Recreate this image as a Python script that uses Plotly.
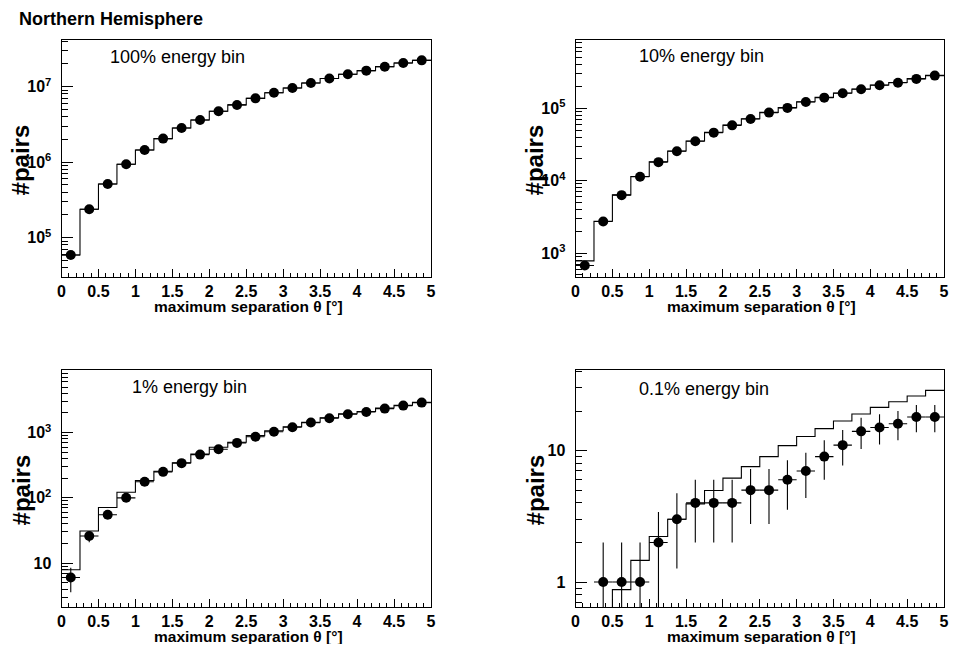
import numpy as np
import plotly.graph_objects as go

# ---------------- data ----------------
theta_centers = [0.125, 0.375, 0.625, 0.875, 1.125, 1.375, 1.625, 1.875, 2.125, 2.375,
                 2.625, 2.875, 3.125, 3.375, 3.625, 3.875, 4.125, 4.375, 4.625, 4.875]
bin_half_width = 0.125

counts_100 = [5.9e4, 2.38e5, 5.14e5, 9.4e5, 1.45e6, 2.05e6, 2.84e6, 3.62e6, 4.72e6, 5.73e6,
              7.0e6, 8.3e6, 9.6e6, 1.12e7, 1.28e7, 1.46e7, 1.63e7, 1.84e7, 2.06e7, 2.23e7]
expected_100 = [5.9e4, 2.38e5, 5.14e5, 9.4e5, 1.45e6, 2.05e6, 2.84e6, 3.62e6, 4.72e6, 5.73e6,
                7.0e6, 8.3e6, 9.6e6, 1.12e7, 1.28e7, 1.46e7, 1.63e7, 1.84e7, 2.06e7, 2.23e7]

counts_10 = [674, 2730, 6300, 11300, 18000, 25500, 35000, 46000, 58000, 71000,
             87000, 101000, 122000, 140000, 161000, 183000, 208000, 225000, 254000, 282000]
expected_10 = [780, 2750, 6350, 11400, 18200, 25700, 35300, 46500, 58500, 71500,
               87500, 102000, 123000, 141000, 162000, 184000, 209000, 227000, 256000, 284000]

counts_1 = [6, 26, 55, 100, 176, 250, 340, 460, 556, 695,
            865, 1030, 1210, 1425, 1665, 1915, 2075, 2335, 2595, 2885]
expected_1 = [7.9, 31, 71, 122, 184, 255, 345, 470, 595, 713,
              900, 1070, 1230, 1440, 1690, 1950, 2110, 2380, 2630, 2920]

counts_01 = [0, 1, 1, 1, 2, 3, 4, 4, 4, 5,
             5, 6, 7, 9, 11, 14, 15, 16, 18, 18]
expected_01 = [0.15, 0.45, 0.875, 1.46, 2.22, 3.0, 3.93, 4.97, 6.17, 7.55,
               9.0, 10.9, 12.8, 14.7, 16.8, 19.0, 21.3, 23.5, 26.0, 28.7]

panel_labels = ["100% energy bin", "10% energy bin", "1% energy bin", "0.1% energy bin"]
x_title = "maximum separation θ [°]"
y_title = "#pairs"
fig_title = "Northern Hemisphere"

# ---------------- layout geometry (pixels, in the 958x652 window) ----------------
OFF = 8                     # default page body margin
W, H = 958 - 2 * OFF, 652 - 2 * OFF
FONT = "Liberation Sans, Arial, Helvetica, sans-serif"

def px(x):
    return (x - OFF) / W

def py(y):
    return 1 - (y - OFF) / H

panels = [
    dict(x0=58, x1=431, y0=40, y1=277, yr=(4.479, 7.618), counts=counts_100, exp=expected_100,
         label=panel_labels[0], lx=106, ly=57, majors=[1e5, 1e6, 1e7]),
    dict(x0=577, x1=949, y0=40, y1=277, yr=(2.669, 5.942), counts=counts_10, exp=expected_10,
         label=panel_labels[1], lx=640, ly=56, majors=[1e3, 1e4, 1e5]),
    dict(x0=58, x1=431, y0=370, y1=607, yr=(0.326, 3.96), counts=counts_1, exp=expected_1,
         label=panel_labels[2], lx=128, ly=387, majors=[10, 100, 1000]),
    dict(x0=577, x1=949, y0=370, y1=607, yr=(-0.19, 1.613), counts=counts_01, exp=expected_01,
         label=panel_labels[3], lx=640, ly=389, majors=[1, 10]),
]

def major_text(v):
    e = int(round(np.log10(v)))
    if e == 0:
        return "1"
    if e == 1:
        return "10"
    return "10<sup>%d</sup>" % e

def minor_vals(lo, hi):
    out = []
    for e in range(int(np.floor(lo)) - 1, int(np.ceil(hi)) + 1):
        for d in range(2, 10):
            v = d * 10.0 ** e
            if lo <= np.log10(v) <= hi:
                out.append(v)
    return out

fig = go.Figure()
layout = dict(width=W, height=H, margin=dict(l=0, r=0, t=0, b=0),
              paper_bgcolor="white", plot_bgcolor="white", showlegend=False,
              font=dict(family=FONT, color="black"))
annotations = []

edges = [c - bin_half_width for c in theta_centers] + [theta_centers[-1] + bin_half_width]

for i, p in enumerate(panels):
    n = i + 1
    xa = "x" if n == 1 else "x%d" % n
    ya = "y" if n == 1 else "y%d" % n
    xk = "xaxis" if n == 1 else "xaxis%d" % n
    yk = "yaxis" if n == 1 else "yaxis%d" % n

    # step histogram (expected)
    fig.add_trace(go.Scatter(
        x=edges, y=list(p["exp"]) + [p["exp"][-1]], mode="lines",
        line=dict(color="black", width=1.1, shape="hv"),
        xaxis=xa, yaxis=ya, hoverinfo="skip"))

    # data points with Poisson errors
    cnt = np.array(p["counts"], dtype=float)
    yvals = [v if v > 0 else None for v in cnt]
    err = np.sqrt(cnt)
    fig.add_trace(go.Scatter(
        x=theta_centers, y=yvals, mode="markers",
        marker=dict(color="black", size=10, symbol="circle"),
        error_y=dict(type="data", array=err, color="black", thickness=1.1, width=0),
        error_x=dict(type="constant", value=bin_half_width, color="black", thickness=1.1, width=0),
        xaxis=xa, yaxis=ya))

    layout[xk] = dict(
        domain=[px(p["x0"]), px(p["x1"])], anchor=ya, range=[0, 5],
        tickmode="linear", tick0=0, dtick=0.5, ticks="inside", ticklen=8, tickwidth=1,
        tickcolor="black",
        minor=dict(tickmode="linear", tick0=0, dtick=0.1, ticks="inside", ticklen=4,
                   tickwidth=1, tickcolor="black"),
        showline=True, linecolor="black", linewidth=1, mirror=True,
        showgrid=False, zeroline=False,
        tickfont=dict(family=FONT, size=16, color="black", weight="bold"))
    lo, hi = p["yr"]
    layout[yk] = dict(
        domain=[py(p["y1"]), py(p["y0"])], anchor=xa, type="log", range=[lo, hi],
        tickmode="array", tickvals=p["majors"], ticktext=[major_text(v) for v in p["majors"]],
        ticks="inside", ticklen=11, tickwidth=1, tickcolor="black", ticklabelstandoff=6,
        minor=dict(tickmode="array", tickvals=minor_vals(lo, hi), ticks="inside", ticklen=6,
                   tickwidth=1, tickcolor="black"),
        showline=True, linecolor="black", linewidth=1, mirror=True,
        showgrid=False, zeroline=False,
        tickfont=dict(family=FONT, size=16, color="black", weight="bold"))

    # panel label
    annotations.append(dict(text=p["label"], x=px(p["lx"]), y=py(p["ly"]), xref="paper", yref="paper",
                            xanchor="left", yanchor="middle", showarrow=False, borderpad=0,
                            font=dict(family=FONT, size=18, color="black")))
    # x title
    annotations.append(dict(text="<b>%s</b>" % x_title, x=px((p["x0"] + p["x1"]) / 2 + 2),
                            y=py(p["y1"] + 29), xref="paper", yref="paper",
                            xanchor="center", yanchor="middle", showarrow=False, borderpad=0,
                            font=dict(family=FONT, size=15.5, color="black")))
    # y title
    annotations.append(dict(text="<b>%s</b>" % y_title, x=px(p["x0"] - 40.5),
                            y=py((p["y0"] + p["y1"]) / 2 + 1.5), xref="paper", yref="paper",
                            xanchor="center", yanchor="middle", showarrow=False, textangle=-90,
                            borderpad=0, font=dict(family=FONT, size=24, color="black")))

annotations.append(dict(text="<b>%s</b>" % fig_title, x=px(14), y=py(19), xref="paper", yref="paper",
                        xanchor="left", yanchor="middle", showarrow=False, borderpad=0,
                        font=dict(family=FONT, size=18, color="black")))
layout["annotations"] = annotations
fig.update_layout(**layout)
fig.write_html("out.html")
